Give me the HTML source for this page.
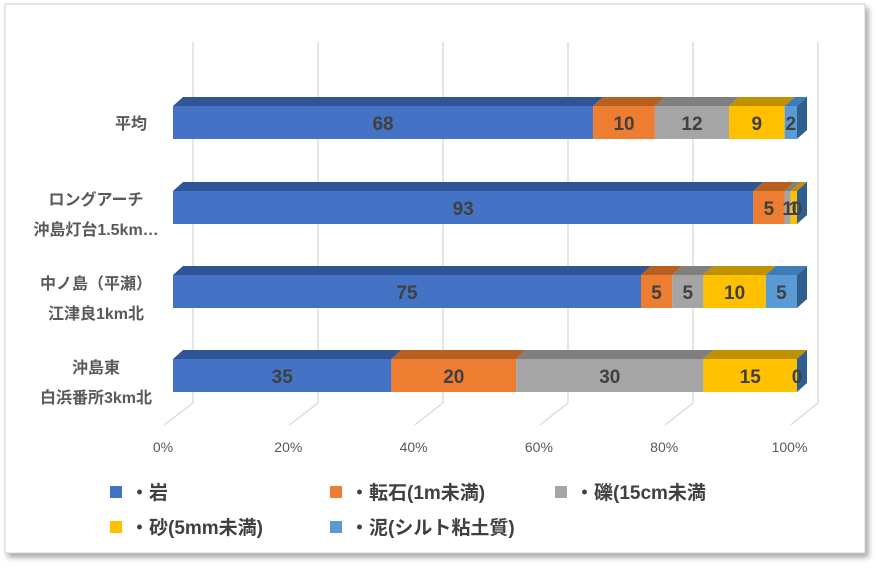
<!DOCTYPE html>
<html><head><meta charset="utf-8"><style>
body{margin:0;background:#fff;width:877px;height:567px;overflow:hidden}
svg text{font-family:"Liberation Sans","Noto Sans CJK JP",sans-serif}
</style></head><body>
<svg id="s" width="877" height="567" xmlns="http://www.w3.org/2000/svg">
<defs><filter id="sh" x="-5%" y="-5%" width="110%" height="110%"><feDropShadow dx="3" dy="4" stdDeviation="3" flood-color="#000" flood-opacity="0.35"/></filter></defs>
<rect x="5" y="4" width="860" height="549" fill="#fff" stroke="#d0d0d0" filter="url(#sh)"/>
<g id="g"></g>
</svg>
<script>
var g=document.getElementById('g'),h='';
for(var i=0;i<6;i++){var x=193+125*i,fx=164+125.3*i;
h+='<line x1="'+x+'" y1="42" x2="'+x+'" y2="403" stroke="#d9d9d9" stroke-width="1.3"/>';
h+='<line x1="'+x+'" y1="403" x2="'+fx+'" y2="425" stroke="#d9d9d9" stroke-width="1.3"/>';
h+='<text x="'+(fx-1)+'" y="452" font-size="14" fill="#595959" text-anchor="middle">'+(i*20)+'%</text>';}
var cols=['#4472C4','#ED7D31','#A5A5A5','#FFC000','#5B9BD5'],tops=['#2F5597','#B85F22','#7F7F7F','#BF9000','#3E7CB8'];
var data=[[68,10,12,9,2],[93,5,1,1,0],[75,5,5,10,5],[35,20,30,15,0]];
var ys=[106,191,275,359],H=33,dx=10,dy=9;
var labs=[['平均'],['ロングアーチ','沖島灯台1.5km…'],['中ノ島（平瀬）','江津良1km北'],['沖島東','白浜番所3km北']];
for(var b=0;b<4;b++){var d=data[b],t=d.reduce(function(a,c){return a+c},0),x=173,y=ys[b];
var txt='';
for(var k=0;k<5;k++){var w=624*d[k]/t;
h+='<polygon points="'+x+','+y+' '+(x+dx)+','+(y-dy)+' '+(x+w+dx)+','+(y-dy)+' '+(x+w)+','+y+'" fill="'+tops[k]+'"/>';
h+='<rect x="'+x+'" y="'+y+'" width="'+w+'" height="'+H+'" fill="'+cols[k]+'"/>';
txt+='<text x="'+(x+w/2)+'" y="'+(y+24)+'" font-size="19" font-weight="bold" fill="#404040" text-anchor="middle">'+d[k]+'</text>';
x+=w;}
h+='<polygon points="797,'+y+' 807,'+(y-dy)+' 807,'+(y+H-dy)+' 797,'+(y+H)+'" fill="#2F5F8F"/>';
h+=txt;
var L=labs[b];
if(L.length==1)h+='<text x="131" y="'+(y+23)+'" font-size="16" font-weight="bold" fill="#595959" text-anchor="middle">'+L[0]+'</text>';
else{h+='<text x="96" y="'+(y+14)+'" font-size="16" font-weight="bold" fill="#595959" text-anchor="middle">'+L[0]+'</text>';
h+='<text x="96" y="'+(y+44)+'" font-size="16" font-weight="bold" fill="#595959" text-anchor="middle">'+L[1]+'</text>';}
}
var leg=[[110,492,0,'・岩'],[330,492,1,'・転石(1m未満)'],[555,492,2,'・礫(15cm未満'],[110,527,3,'・砂(5mm未満)'],[330,527,4,'・泥(シルト粘土質)']];
leg.forEach(function(l){h+='<rect x="'+l[0]+'" y="'+(l[1]-6)+'" width="12" height="12" fill="'+cols[l[2]]+'"/>';
h+='<text x="'+(l[0]+20)+'" y="'+(l[1]+7)+'" font-size="19" font-weight="bold" fill="#404040">'+l[3]+'</text>';});
g.innerHTML=h;
</script>
</body></html>
